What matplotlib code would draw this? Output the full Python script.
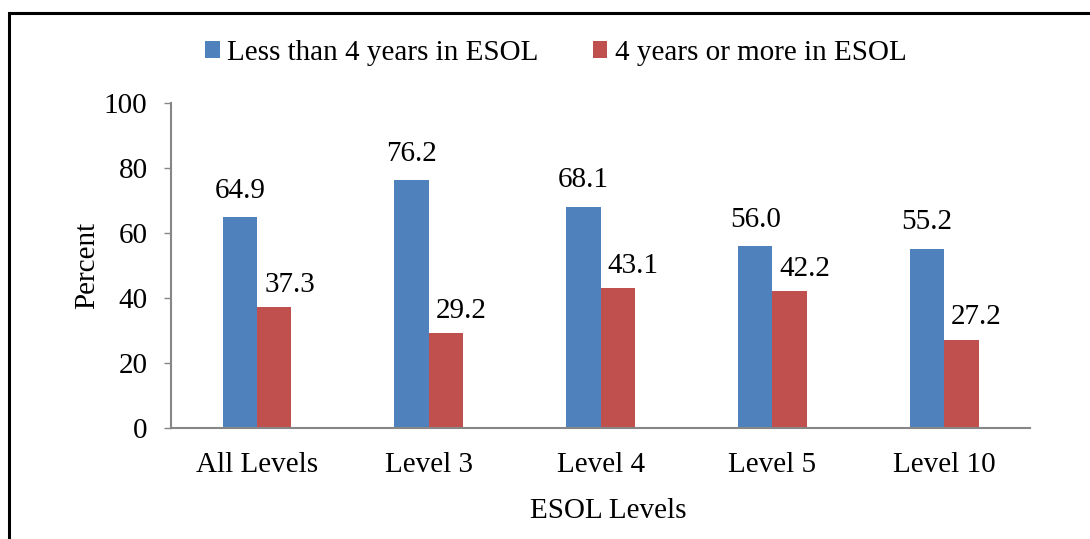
import numpy as np
import matplotlib
matplotlib.use('Agg')
import matplotlib.pyplot as plt
from matplotlib.patches import Rectangle

categories = ['All Levels', 'Level 3', 'Level 4', 'Level 5', 'Level 10']
less_than_4 = [64.9, 76.2, 68.1, 56.0, 55.2]
four_or_more = [37.3, 29.2, 43.1, 42.2, 27.2]
series_names = ['Less than 4 years in ESOL', '4 years or more in ESOL']
yticks = [0, 20, 40, 60, 80, 100]

plt.rcParams['font.family'] = ['Liberation Serif', 'DejaVu Serif']

blue = '#4F81BD'
red = '#C0504D'
axis_grey = '#868686'
fs = 21

fig = plt.figure(figsize=(10.9, 5.39), dpi=100)
ax = fig.add_axes([0.157, 0.206, 0.788, 0.603])

x = np.arange(len(categories))
w = 0.2
b1 = ax.bar(x - w / 2, less_than_4, w, color=blue, label=series_names[0])
b2 = ax.bar(x + w / 2, four_or_more, w, color=red, label=series_names[1])

for rect, v in zip(b1, less_than_4):
    ax.annotate('%.1f' % v, (rect.get_x() + rect.get_width() / 2, v),
                xytext=(0, 19), textcoords='offset points',
                ha='center', va='center', fontsize=fs)
for rect, v in zip(b2, four_or_more):
    ax.annotate('%.1f' % v, (rect.get_x() + rect.get_width() / 2, v),
                xytext=(11, 16), textcoords='offset points',
                ha='center', va='center', fontsize=fs)

ax.set_xlim(-0.5, len(categories) - 0.5)
ax.set_ylim(0, 100)
ax.set_yticks(yticks)
ax.set_xticks(x)
ax.set_xticklabels(categories, fontsize=fs)
ax.tick_params(axis='y', labelsize=fs, length=5, width=1, color=axis_grey, pad=12)
ax.tick_params(axis='x', length=0, pad=17)

for s in ['top', 'right']:
    ax.spines[s].set_visible(False)
for s in ['left', 'bottom']:
    ax.spines[s].set_color(axis_grey)
    ax.spines[s].set_linewidth(1.5)

ax.set_ylabel('Percent', fontsize=fs)
ax.yaxis.set_label_coords(-0.083, 0.5)
ax.set_xlabel('ESOL Levels', fontsize=fs)
ax.xaxis.set_label_coords(0.509, -0.215)

fig.legend(handles=[b1, b2], labels=series_names, loc='center',
           bbox_to_anchor=(0.51, 0.902), ncol=2, frameon=False, fontsize=fs,
           handlelength=0.5, handleheight=0.5, handletextpad=0.25,
           columnspacing=1.85)

# outer border (left and top visible, rest cropped)
fig.patches.append(Rectangle((9 / 1090, -0.05), 1.2, (539 - 13) / 539 + 0.05,
                             transform=fig.transFigure, fill=False,
                             edgecolor='black', linewidth=2.2))

fig.savefig('out.png', dpi=100)
